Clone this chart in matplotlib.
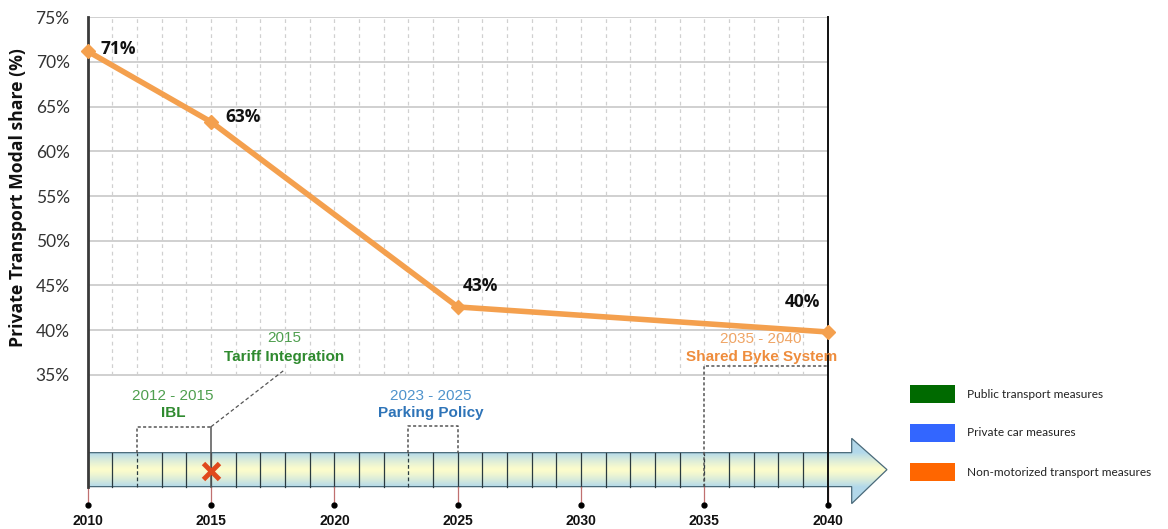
import numpy as np
import matplotlib
matplotlib.use("Agg")
from matplotlib import pyplot as plt
from matplotlib.patches import Polygon, Rectangle

# data
years = [2010, 2015, 2025, 2040]
share = [71.2, 63.3, 42.6, 39.8]
share_labels = ['71%', '63%', '43%', '40%']
ytick_vals = [35, 40, 45, 50, 55, 60, 65, 70, 75]
xtick_vals = [2010, 2015, 2020, 2025, 2030, 2035, 2040]

measures = [
    # (start, end, period text, name, light colour, dark colour)
    (2012, 2015, '2012 - 2015', 'IBL', '#4f9f4f', '#2f8a2f'),
    (2015, 2015, '2015', 'Tariff Integration', '#4f9f4f', '#2f8a2f'),
    (2023, 2025, '2023 - 2025', 'Parking Policy', '#4f93cc', '#2e74b8'),
    (2035, 2040, '2035 - 2040', 'Shared Byke System', '#efa566', '#ee8c3c'),
]
legend_labels = ['Public transport measures', 'Private car measures',
                 'Non-motorized transport measures']
legend_colors = ['#006a00', '#3366ff', '#ff6600']

line_col = '#f4a04e'

fig = plt.figure(figsize=(11.68, 5.29), dpi=100)
left, width, top = 0.0751, 0.6336, 0.9673
px_per_year = width * 1168 / 30

# wider background axes for the timeline arrow (so the head is not clipped)
ax2 = fig.add_axes([left, 0.0, 0.74, top], zorder=0)
ax2.axis('off')

ax = fig.add_axes([left, 0.0, width, top], zorder=1)
ax.patch.set_alpha(0)
ax.set_xlim(2010, 2040)
ax.set_ylim(17.76, 75)
for s in ax.spines.values():
    s.set_visible(False)
ax.set_xticks([])
ax.set_yticks(ytick_vals)
ax.set_yticklabels([f'{v}%' for v in ytick_vals], family='Lato', fontsize=12.5,
                   color='#333333')
ax.tick_params(axis='y', length=0, pad=13)

# grid
for v in ytick_vals:
    ax.plot([2010, 2040], [v, v], color='#c4c4c4', lw=1.1, zorder=1)
for yr in range(2011, 2040):
    ax.plot([yr, yr], [35, 75], color='#d0d0d0', lw=0.9, ls=(0, (3, 3)), zorder=1)

# timeline arrow
bar_top, bar_bot = 26.3, 22.5
head_top, head_bot = 27.9, 20.6
head_x, tip_x = 2040.97, 2042.4
mid = (bar_top + bar_bot) / 2
arrow = Polygon([(2010, bar_bot), (2010, bar_top), (head_x, bar_top), (head_x, head_top),
                 (tip_x, mid), (head_x, head_bot), (head_x, bar_bot)],
                closed=True, facecolor='none', edgecolor='#4a6a7a', lw=0.9, zorder=4)
ax2.add_patch(arrow)
yy = np.linspace(head_top, head_bot, 300)
grad = np.clip(np.abs(yy - mid) / (bar_top - mid), 0, 1)
c_top = np.array([0.70, 0.85, 0.92])
c_mid = np.array([0.99, 0.99, 0.80])
img = c_mid[None, :] + (c_top - c_mid)[None, :] * (grad[:, None] ** 1.3)
img = np.repeat(img[:, None, :], 2, axis=1)
im = ax2.imshow(img, extent=[2010, tip_x, head_bot, head_top], aspect='auto', zorder=3)
im.set_clip_path(arrow)
ax2.set_xlim(2010, 2010 + 0.74 * 1168 / px_per_year)
ax2.set_ylim(17.76, 75)

for yr in range(2011, 2040):
    ls = '-'
    if yr in (2012, 2023, 2035):
        ls = (0, (3, 2))
    ax.plot([yr, yr], [bar_bot, bar_top], color='#2a3a40', lw=0.9, ls=ls, zorder=5)

# left axis line and right black line
ax.plot([2010, 2010], [bar_bot, 75], color='#3a3a3a', lw=2, zorder=6, clip_on=False)
ax.plot([2040, 2040], [20.4, 75], color='#111111', lw=1.4, zorder=6, clip_on=False)

# ticks under timeline
for yr in xtick_vals:
    ax.plot([yr, yr], [20.4, bar_bot], color='#c07070', lw=0.9, zorder=5, clip_on=False)
    ax.plot(yr, 20.4, 'o', color='black', ms=3.5, zorder=6, clip_on=False)
    ax.text(yr, 18.7, str(yr), ha='center', va='center', family='Liberation Sans',
            fontweight='bold', fontsize=10, color='#111111')

# measure brackets
dot_kw = dict(color='#555555', lw=1.1, ls=(0, (2, 1.5)), zorder=5, clip_on=False)
ax.plot([2012, 2012, 2015], [bar_top, 29.2, 29.2], **dot_kw)
ax.plot([2015, 2015], [bar_bot, 29.2], color='#555555', lw=1.1, zorder=5)
ax.plot([2015, 2017.95], [29.2, 35.5], color='#555555', lw=0.9, ls=(0, (3, 2)), zorder=5)
ax.plot([2023, 2023, 2025, 2025], [bar_top, 29.25, 29.25, bar_top], **dot_kw)
ax.plot([2035, 2035, 2040], [bar_bot, 36.0, 36.0], **dot_kw)

text_pos = [(2013.45, 32.67, 30.7), (2017.97, 39.1, 37.05),
            (2023.9, 32.67, 30.7), (2037.3, 39.0, 36.95)]
for (s0, s1, period, name, c1, c2), (tx, y1, y2) in zip(measures, text_pos):
    ax.text(tx, y1, period, ha='center', va='center', family='Liberation Sans',
            fontsize=11, color=c1, zorder=7)
    ax.text(tx, y2, name, ha='center', va='center', family='Liberation Sans',
            fontweight='bold', fontsize=11, color=c2, zorder=7)

ax.plot(2015, 24.2, marker='x', color='#e0491c', ms=12, mew=3.5, zorder=7)

# main series
ax.plot(years, share, color=line_col, lw=4, marker='D', ms=7.5, zorder=8, clip_on=False)
label_pos = [(2010.5, 71.4, 'left'), (2015.6, 63.9, 'left'),
             (2025.2, 44.9, 'left'), (2039.7, 43.2, 'right')]
for lab, (lx, ly, ha) in zip(share_labels, label_pos):
    ax.text(lx, ly, lab, ha=ha, va='center', family='Open Sans', fontweight='bold',
            fontsize=12.5, color='#111111', zorder=9)

fig.text(18 / 1168, 1 - 198 / 529, 'Private Transport Modal share (%)', rotation=90,
         ha='center', va='center', family='Open Sans', fontweight='bold',
         fontsize=12.7, color='#111111')

# legend
for i, (lab, col) in enumerate(zip(legend_labels, legend_colors)):
    ytop = 385 + i * 39
    fig.patches.append(Rectangle((910 / 1168, 1 - (ytop + 17.5) / 529), 45.5 / 1168,
                                 17.5 / 529, transform=fig.transFigure,
                                 facecolor=col, edgecolor='none'))
    fig.text(967 / 1168, 1 - (ytop + 9) / 529, lab, ha='left', va='center',
             family='Lato', fontsize=8.6, color='#222222')

fig.savefig('out.png', dpi=100)
